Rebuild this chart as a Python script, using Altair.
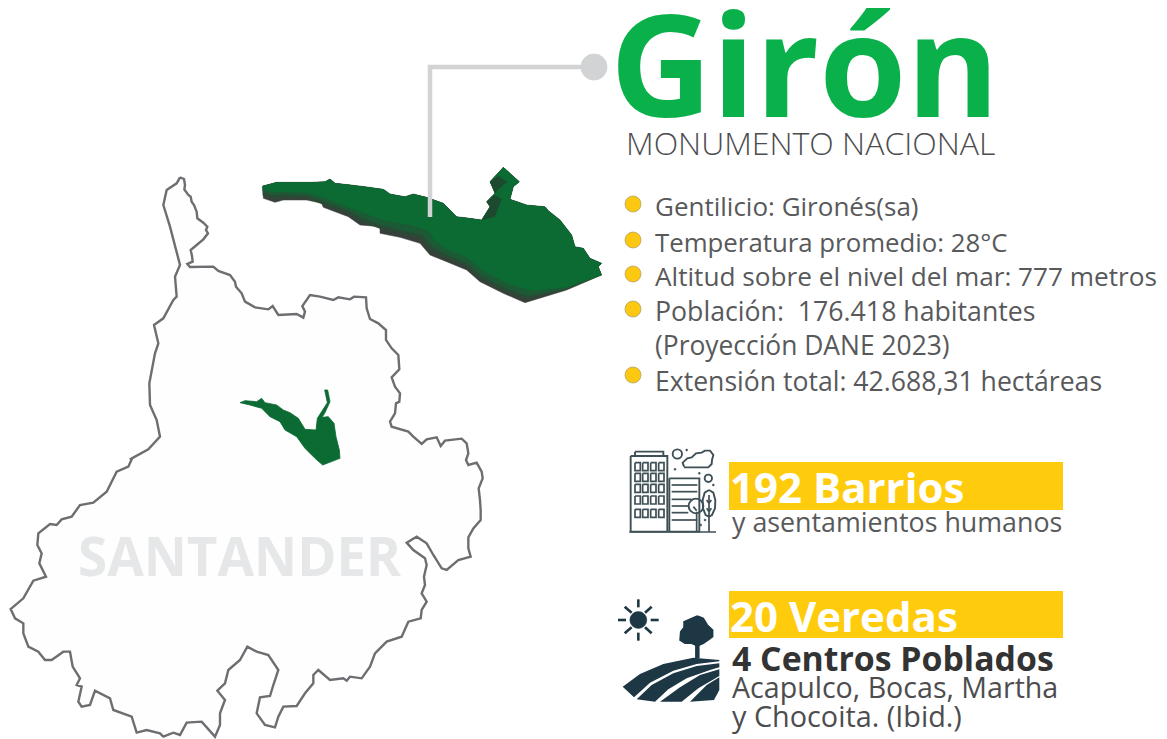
import altair as alt
import pandas as pd

# outlines at 3x crop scale: (crop x, crop y)
SANT_N = [(540,22),(552,27),(555,45),(553,58),(565,75),(572,80),(575,95),(582,105),(590,125),(592,145),(610,158),(622,170),(618,180),(624,190),(610,208),(590,225),(572,240),(576,258),(578,275),(562,282),(570,291),(640,290),(655,303),(690,315),(705,335),(708,350),(725,370),(735,395),(765,412),(805,418),(818,408),(835,435),(890,432),(910,443),(915,425),(907,408),(930,375),(960,380),(1000,390),(1015,382),(1050,388),(1062,380),(1098,382),(1100,415),(1110,447),(1135,460),(1158,480),(1158,510),(1175,535),(1195,555),(1198,598),(1175,622),(1185,650),(1200,670),(1198,695),(1188,700),(1185,730),(1170,755),(1175,770),(1225,785),(1240,800),(1265,822),(1280,808),(1310,802),(1322,828),(1335,812),(1385,806),(1400,820),(1405,850),(1398,870)]
SANT_S = [(1405,45),(1430,38),(1445,65),(1448,85),(1436,115),(1440,150),(1442,180),(1442,210),(1420,235),(1405,262),(1405,295),(1412,320),(1375,330),(1340,360),(1325,355),(1300,315),(1280,280),(1250,260),(1220,278),(1240,300),(1275,325),(1280,345),(1272,380),(1275,405),(1265,430),(1280,455),(1265,480),(1262,505),(1225,515),(1205,560),(1160,575),(1125,610),(1110,650),(1085,685),(1050,680),(1040,692),(1030,685),(990,690),(955,660),(940,675),(940,700),(915,730),(890,768),(850,770),(835,800),(825,832),(795,825),(770,790),(780,742),(810,738),(820,705),(835,660),(805,615),(770,605),(742,590),(720,630),(685,660),(675,700),(652,722),(675,750),(660,790),(660,825),(645,860),(605,815),(560,818),(540,855),(520,848),(490,860),(480,850),(440,840),(410,848),(395,800),(340,780),(330,745),(285,722),(270,765),(245,770),(235,755),(245,710),(230,705),(240,685),(218,650),(210,605),(190,605),(155,630),(135,630),(115,605),(85,590),(70,550),(70,520),(45,505),(32,477),(70,445),(100,392),(138,380),(118,340),(125,310),(112,285),(115,250),(150,222),(170,225),(185,208),(215,200),(240,165),(280,158),(320,125),(350,65),(385,50),(395,28)]
SANT_W = [(390,868),(445,838),(480,800),(470,750),(450,705),(448,640),(465,550),(475,520),(462,465),(490,445),(520,390),(530,380),(525,320),(540,285),(527,235),(510,170),(490,105),(500,60),(530,40),(540,22)]

GIRON_TOP = [(38,558),(80,547),(180,547),(225,545),(240,537),(255,550),(285,553),(345,560),(400,568),(420,582),(465,590),(490,582),(530,592),(580,610),(620,650),(660,655),(695,660),(720,620),(710,605),(735,580),(720,545),(760,502),(808,545),(790,560),(780,598),(830,615),(885,620),(895,632),(930,660),(965,705),(975,740),(1000,745),(1020,775),(1055,790),(1045,800),(1055,825)]
GIRON_SILH_LOW = [(950,870),(825,908),(760,880),(690,845),(650,810),(590,785),(540,765),(510,730),(450,712),(390,700),(390,680),(330,675),(295,650),(220,622),(215,610),(170,600),(100,600),(75,607),(40,595),(38,558)]
GIRON_L1_LOW = [(950,868),(830,898),(762,874),(692,838),(650,800),(590,776),(542,752),(512,716),(450,700),(393,688),(330,664),(295,642),(220,614),(170,594),(100,594),(72,598),(38,586),(38,558)]
GIRON_L2_LOW = [(950,866),(835,888),(765,864),(695,828),(650,790),(590,764),(545,738),(518,705),(450,690),(397,676),(330,652),(295,632),(220,604),(170,586),(100,584),(68,586),(38,574),(38,558)]
GIRON_FACE_LOW = [(950,862),(845,872),(770,850),(700,812),(650,772),(590,748),(550,718),(535,692),(480,675),(400,660),(330,635),(290,620),(220,592),(170,578),(100,575),(60,575),(38,565),(38,558)]
TOWER_DARK = [[(720,545),(745,528),(772,545),(745,568),(735,580)], [(710,605),(735,585),(755,598),(735,650),(695,660),(720,620)]]

SMALL = [(30,68),(45,62),(80,65),(95,55),(105,68),(140,75),(160,90),(180,98),(205,115),(225,148),(258,150),(262,115),(278,90),(292,68),(284,30),(293,30),(300,65),(284,100),(276,112),(295,110),(312,130),(318,170),(328,210),(330,235),(278,255),(255,235),(225,205),(200,170),(165,150),(150,125),(120,110),(95,85),(60,75),(30,68)]

CONNECTOR = [(594,67),(430,67),(430,217)]

BULLET_Y = [204,240,274,309,375]
INFO_LINES = ["Gentilicio: Gironés(sa)","Temperatura promedio: 28°C","Altitud sobre el nivel del mar: 777 metros","Población:\u00a0 176.418 habitantes","(Proyección DANE 2023)","Extensión total: 42.688,31 hectáreas"]
INFO_Y = [216,252,286,321,355,391]
INFO_SIZE = [26,25.8,26.2,26.7,26.4,26.6]

# building icon, crop coordinates
BLD_RECTS = [(62,48,172,275),(75,35,160,48),(178,115,268,275)]
WIN_X = [75,98,122,146]
WIN_Y = [68,100,133,168,208]
BLD_LINES = [(58,276,318,276),(185,135,262,135),(185,155,262,155),(185,178,245,178),(185,198,235,198),(185,218,235,218),(185,240,262,240),(260,215,260,275),(297,165,297,275),(250,200,260,212),(290,180,297,190),(304,180,297,190),(290,205,297,215),(304,205,297,215)]
BLD_RINGS = [(202,42,28),(295,115,22),(258,198,44)]
TREE2 = [(297,150),(310,158),(316,180),(315,205),(306,225),(297,230),(287,225),(279,205),(278,180),(284,158),(297,150)]
CLOUD = [(222,80),(218,68),(232,55),(245,52),(258,40),(275,38),(285,32),(300,32),(310,45),(306,60),(305,72),(295,82),(222,82)]
BLD_DOTS = [(195,88),(230,30),(268,100),(310,135),(272,255),(285,240)]

# field icon, crop coordinates
SUN = (85,90)
SUN_RAYS = [(85,28,85,52),(85,128,85,152),(24,90,48,90),(122,90,146,90),(44,50,65,68),(125,50,105,68),(44,130,65,112),(125,130,105,112)]
CROWN = [(262,78),(280,85),(292,105),(308,120),(308,140),(295,150),(280,160),(262,168),(245,160),(225,160),(210,150),(212,125),(222,112),(222,95),(245,85),(262,78)]
TRUNK = (262,165,262,205)
BANDS = [
 [(328,210),(250,203),(160,222),(90,252),(38,290),(72,322),(120,278),(190,242),(260,222),(328,214)],
 [(328,220),(260,228),(190,250),(125,285),(80,328),(135,335),(175,298),(230,265),(300,240),(328,232)],
 [(328,238),(270,255),(210,292),(150,335),(215,335),(265,295),(328,258)],
 [(328,262),(290,285),(240,335),(312,330),(328,300)],
]

BARS = [(729,462,1063,510),(729,591,1063,638)]

TEXTS = [
 ("Girón",610,117,141,700,"#0ab14b"),
 ("MONUMENTO NACIONAL",626,155,32,300,"#4d4d4f"),
 ("SANTANDER",78,576,53,700,"#e6e7e8"),
 ("192 Barrios",730,503,42,700,"#ffffff"),
 ("y asentamientos humanos",732,532,26.8,400,"#58595b"),
 ("20 Veredas",730,632,42,700,"#ffffff"),
 ("4 Centros Poblados",732,671,33.8,700,"#333333"),
 ("Acapulco, Bocas, Martha",732,698,28.6,400,"#4d4d4f"),
 ("y Chocoita. (Ibid.)",732,727,28.8,400,"#4d4d4f"),
]

FONT = "Open Sans"
X = alt.X("x:Q", axis=None, scale=alt.Scale(domain=[8,1159]))
Y = alt.Y("y:Q", axis=None, scale=alt.Scale(domain=[739,8]))

def z(pts, x0, y0):
    return [(x0 + p[0]/3, y0 + p[1]/3) for p in pts]

def poly(pts, **mark):
    df = pd.DataFrame(pts, columns=["x","y"]).assign(i=range(len(pts)))
    return alt.Chart(df).mark_line(interpolate="linear", **mark).encode(x=X, y=Y, order="i:Q")

def segs(lines, x0, y0, color, w, cap="butt"):
    df = pd.DataFrame([(x0+a/3, y0+b/3, x0+c/3, y0+d/3) for a,b,c,d in lines], columns=["x","y","x2","y2"])
    return alt.Chart(df).mark_rule(color=color, strokeWidth=w, strokeCap=cap).encode(x=X, y=Y, x2="x2:Q", y2="y2:Q")

def ring(cx, cy, d, color, w, fill=None):
    df = pd.DataFrame({"x":[cx],"y":[cy]})
    kw = dict(fill=fill, fillOpacity=1) if fill else dict(filled=False)
    return alt.Chart(df).mark_point(shape="circle", size=d*d, stroke=color, strokeWidth=w, opacity=1, **kw).encode(x=X, y=Y)

def rects(rs, color, **kw):
    df = pd.DataFrame(rs, columns=["x","y","x2","y2"])
    return alt.Chart(df).mark_rect(**kw).encode(x=X, y=Y, x2="x2:Q", y2="y2:Q", color=alt.value(color))

def text(s, x, y, size, weight, color):
    df = pd.DataFrame({"x":[x],"y":[y],"t":[s]})
    return alt.Chart(df).mark_text(align="left", baseline="alphabetic", font=FONT, fontSize=size, fontWeight=weight, color=color).encode(x=X, y=Y, text="t:N")

layers = []
# Santander
sant = z(SANT_N,0,170) + z(SANT_S,0,450) + z(SANT_W,0,170)
layers.append(poly(sant, fill="#fefefe", stroke="#6d6e71", strokeWidth=2.4))
for t in TEXTS[2:3]:
    layers.append(text(*t))
layers.append(poly(z(SMALL,230,380), fill="#0b6b33", stroke="#0b6b33", strokeWidth=0.8))
# Girón 3D
layers.append(poly(z(GIRON_TOP+GIRON_SILH_LOW,250,0), fill="#38403b", stroke="#38403b", strokeWidth=0.5))
layers.append(poly(z(GIRON_TOP+GIRON_L1_LOW,250,0), fill="#2b4a36", strokeWidth=0))
layers.append(poly(z(GIRON_TOP+GIRON_L2_LOW,250,0), fill="#1b5a34", strokeWidth=0))
layers.append(poly(z(GIRON_TOP+GIRON_FACE_LOW,250,0), fill="#0b6b33", strokeWidth=0))
for d in TOWER_DARK:
    layers.append(poly(z(d+d[:1],250,0), fill="#1d4a2e", strokeWidth=0))
# connector
layers.append(poly(CONNECTOR, stroke="#d1d3d4", strokeWidth=4.5))
layers.append(ring(594,67,26,"#d1d3d4",1,"#d1d3d4"))
# bullets and info text
for y in BULLET_Y:
    layers.append(ring(633,y,16,"#b5a36a",0.8,"#fdc811"))
for s,y,fs in zip(INFO_LINES,INFO_Y,INFO_SIZE):
    layers.append(text(s,655,y,fs,400,"#58595b"))
# yellow bars
layers.append(rects([b for b in BARS], "#ffcb0d"))
for t in TEXTS[:2]+TEXTS[3:]:
    layers.append(text(*t))
# building icon
ICON = "#3f4f56"
bx,by = 610,440
for a,b,c,d in BLD_RECTS:
    p = z([(a,b),(c,b),(c,d),(a,d),(a,b)],bx,by)
    layers.append(poly(p, fill="#ffffff", stroke=ICON, strokeWidth=1.9))
for wx in WIN_X:
    for wy in WIN_Y:
        p = z([(wx,wy),(wx+16,wy),(wx+16,wy+24),(wx,wy+24),(wx,wy)],bx,by)
        layers.append(poly(p, stroke=ICON, strokeWidth=1.7))
layers.append(segs(BLD_LINES,bx,by,ICON,1.7))
for cx,cy,d in BLD_RINGS:
    (px,py), = z([(cx,cy)],bx,by)
    layers.append(ring(px,py,d/3,ICON,1.9))
layers.append(poly(z(TREE2,bx,by), stroke=ICON, strokeWidth=1.9))
layers.append(poly(z(CLOUD,bx,by), stroke=ICON, strokeWidth=1.9))
for p in z(BLD_DOTS,bx,by):
    layers.append(ring(p[0],p[1],2,ICON,0.5,ICON))
# field icon
FIELD = "#1d3745"
fx,fy = 610,590
(sx,sy), = z([SUN],fx,fy)
layers.append(ring(sx,sy,17,FIELD,0.5,FIELD))
layers.append(segs(SUN_RAYS,fx,fy,FIELD,2.6))
layers.append(poly(z(CROWN,fx,fy), fill=FIELD, stroke=FIELD, strokeWidth=1.5))
layers.append(segs([TRUNK],fx,fy,FIELD,4.5))
for band in BANDS:
    layers.append(poly(z(band+band[:1],fx,fy), fill=FIELD, strokeWidth=0))

chart = alt.layer(*layers).properties(width=1151, height=731, padding=0, autosize=alt.AutoSizeParams(type="none")).configure_view(stroke=None)
chart.save("out.html", embed_options={"renderer": "svg", "actions": False})
